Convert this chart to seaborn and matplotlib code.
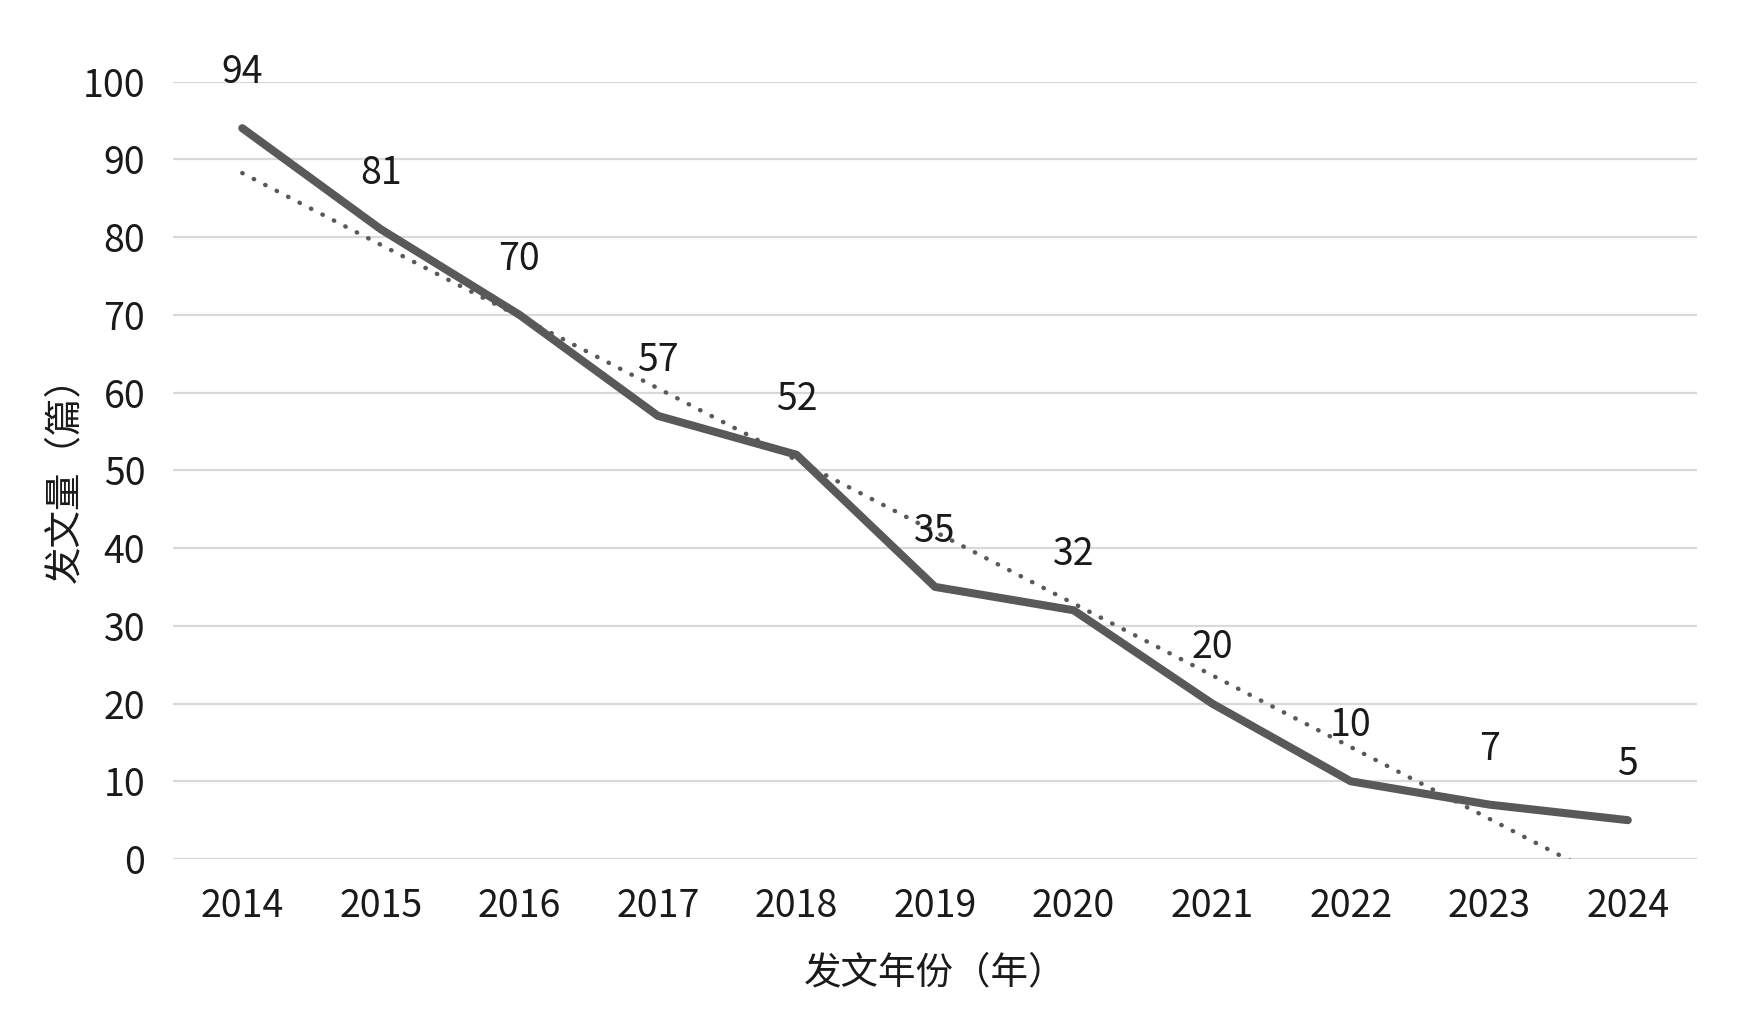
import matplotlib
matplotlib.use('Agg')
import matplotlib.pyplot as plt
import seaborn as sns
import pandas as pd

# 数据
years = [2014, 2015, 2016, 2017, 2018, 2019, 2020, 2021, 2022, 2023, 2024]
counts = [94, 81, 70, 57, 52, 35, 32, 20, 10, 7, 5]
y_ticks = [0, 10, 20, 30, 40, 50, 60, 70, 80, 90, 100]
x_title = '发文年份（年）'
y_title = '发文量（篇）'

sns.set_style('white')
plt.rcParams['font.family'] = ['Noto Sans CJK SC', 'DejaVu Sans']
plt.rcParams['font.weight'] = 'light'
plt.rcParams['axes.unicode_minus'] = False

df = pd.DataFrame({'年份': years, '发文量': counts})

fig = plt.figure(figsize=(17.51, 10.32), dpi=100)
ax = fig.add_axes([0.0988, 0.1676, 0.8704, 0.7534])

line_color = '#595959'
fs = 27

# 线性趋势线（点线）
sns.regplot(x='年份', y='发文量', data=df, scatter=False, ci=None, truncate=True, ax=ax,
            line_kws=dict(color=line_color, linewidth=3.2, linestyle=(0, (0.1, 2.8)),
                          dash_capstyle='round', zorder=3))

# 主折线
sns.lineplot(x='年份', y='发文量', data=df, ax=ax, color=line_color, linewidth=5.8,
             solid_capstyle='round', solid_joinstyle='round', zorder=4)

# 数据标签
for x, y in zip(years, counts):
    ax.annotate(str(y), (x, y), xytext=(0, 40), textcoords='offset points',
                ha='center', va='center', fontsize=fs, color='#1a1a1a', zorder=5)

ax.set_xlim(2013.5, 2024.5)
ax.set_ylim(0, 100)
ax.set_xticks(years)
ax.set_xticklabels([str(y) for y in years])
ax.set_yticks(y_ticks)
ax.tick_params(axis='both', length=0, labelsize=fs, labelcolor='#1a1a1a')
ax.tick_params(axis='y', pad=20)
ax.tick_params(axis='x', pad=20)

ax.yaxis.grid(True, color='#d9d9d9', linewidth=1.6)
ax.xaxis.grid(False)
for s in ax.spines.values():
    s.set_visible(False)

ax.set_xlabel(x_title, fontsize=fs, color='#1a1a1a')
ax.set_ylabel(y_title, fontsize=fs, color='#1a1a1a')
ax.xaxis.set_label_coords(0.5, -0.122)
ax.yaxis.set_label_coords(-0.058, 0.5)

fig.savefig('out.png', dpi=100, facecolor='white')
